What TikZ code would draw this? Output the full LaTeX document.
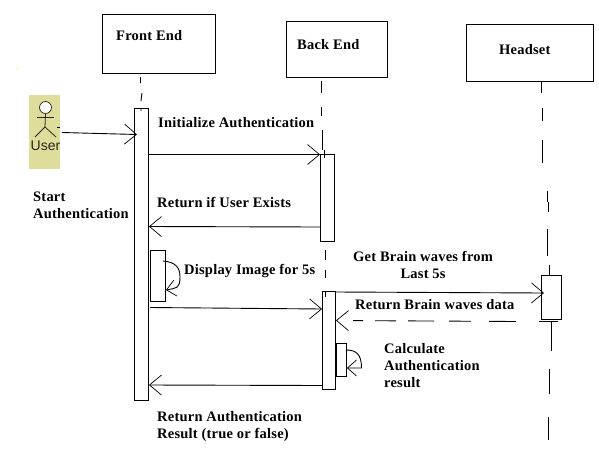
\documentclass[tikz,border=0pt]{standalone}
\usepackage{fontspec}
\setmainfont{Liberation Serif}
\setsansfont{Liberation Sans}
\newfontfamily\lblfont[LetterSpace=1.5,BoldFont={Liberation Serif Bold}]{Liberation Serif}
\usetikzlibrary{arrows.meta}
\definecolor{actorbg}{HTML}{DFDD9C}
\definecolor{actorline}{HTML}{2B2515}
\tikzset{
  lbl/.style={font=\fontsize{14.5}{17}\lblfont\bfseries,inner sep=0pt,anchor=base west},
  mlbl/.style={font=\fontsize{14.5}{17}\lblfont\bfseries,inner sep=0pt,anchor=north west,align=left},
  life/.style={line width=0.9pt},
  msg/.style={line width=0.9pt,-{Straight Barb[length=12pt,width=20pt,line width=0.7pt]}},
  retmsg/.style={msg,dash pattern=on 27pt off 18pt on 22pt off 15pt on 26pt off 12pt on 21pt off 12pt on 10pt off 40pt},
  selfmsg/.style={line width=0.9pt,-{Straight Barb[length=9pt,width=16pt,line width=0.7pt]}}
}
\begin{document}
\begin{tikzpicture}[x=1pt,y=-1pt]
\useasboundingbox (0,0) rectangle (599,453);
\fill[white] (0,0) rectangle (599,453);
\fill[yellow!60!white] (16,68) rectangle (18,69);
% participants
\node[draw,line width=0.9pt,inner sep=0,minimum width=113pt,minimum height=58.5pt] (fe) at (159,43.75) {};
\node[draw,line width=0.9pt,inner sep=0,minimum width=101pt,minimum height=56pt] (be) at (337,49.5) {};
\node[draw,line width=0.9pt,inner sep=0,minimum width=127.5pt,minimum height=56.5pt] (hs) at (529.75,52.75) {};
\node[lbl] at (116,40.7) {Front End};
\node[lbl] at (297,49) {Back End};
\node[lbl] at (499,54) {Headset};
% actor
\node[fill=actorbg,inner sep=0,minimum width=31pt,minimum height=74pt] (actor) at (44.5,132) {};
\node[draw=actorline,fill=white,circle,line width=0.7pt,inner sep=0,minimum size=12pt] (ahead) at (45.5,107.5) {};
\draw[actorline,line width=0.8pt] (ahead.south) -- (45,127) coordinate (hip);
\draw[actorline,line width=0.8pt] (37,117.5) -- (54,117.5);
\draw[actorline,line width=0.8pt] (35,137) -- (hip) -- (56,137);
\node[font=\sffamily\fontsize{14}{15}\selectfont,text=actorline,inner sep=0,anchor=base] at (45.5,150.5) {User};
% lifelines
\draw[life] (140.5,77) -- (140.5,83) (142,93) -- (141,101) (141,108) -- (141,111);
\draw[life] (321.7,81) -- (321.7,93) (321.5,107) -- (321.5,116) (322.5,130) -- (322.5,150) (324.5,150) -- (324.5,158);
\draw[life] (325,250) -- (325,260) (325,270) -- (325,278) (325.5,291) -- (325.5,297);
\draw[life] (541,81) -- (541,92.5) (542,108) -- (542,120.5) (542,140) -- (542,163) (547.5,191) -- (547.5,202) (548.5,202) -- (548.5,212) (547.5,229) -- (547.5,256) (549.5,265) -- (549.5,276) (551,322) -- (551,351) (549.5,369) -- (549.5,394) (548,417) -- (548,440);
% activations
\node[draw,line width=0.9pt,inner sep=0,minimum width=14pt,minimum height=292pt] (a1) at (141.5,254.5) {};
\node[draw,line width=0.9pt,inner sep=0,minimum width=14pt,minimum height=86.5pt] (a2) at (327.5,197.75) {};
\node[draw,line width=0.9pt,inner sep=0,minimum width=13pt,minimum height=98pt] (a3) at (329,340.5) {};
\node[draw,line width=0.9pt,inner sep=0,minimum width=15pt,minimum height=51pt] (s1) at (158,276) {};
\node[draw,line width=0.9pt,inner sep=0,minimum width=10.5pt,minimum height=33pt] (s2) at (341.25,360) {};
\node[draw,line width=0.9pt,inner sep=0,minimum width=20pt,minimum height=44pt] (a4) at (551.5,297.5) {};
\draw[life] (539,321) -- (558,321);
% messages
\coordinate (uout) at (62,132.5);
\draw[life] (57,127) -- (60,127);
\draw[msg] (uout) -- (137,134.5);
\draw[msg] (a1.east |- 0,154.5) -- (a2.west |- 0,154.5);
\draw[msg] (a2.west |- 0,227) -- (a1.east |- 0,226.5);
\draw[msg] (150,307.5) -- (a3.west |- 0,309);
\draw[msg] (a3.east |- 0,292) -- (544,293);
\draw[retmsg] (516,321.5) -- (a3.east |- 0,320.5);
\draw[msg] (a3.west |- 0,385.5) -- (a1.east |- 0,385);
% self messages
\draw[selfmsg] (163,261) .. controls (176,262) and (180,268) .. (180,277) .. controls (180,289) and (176,288) .. (s1.east |- 0,290);
\draw[selfmsg] (346,350) .. controls (356,350) and (361.5,354) .. (361.5,368) -- (s2.east |- 0,368);
% labels
\node[lbl] at (158,127) {Initialize Authentication};
\node[lbl] at (157,207.7) {Return if User Exists};
\node[lbl] at (184,274) {Display Image for 5s};
\node[lbl] at (355,309.3) {Return Brain waves data};
\node[mlbl] at (33,191.5) {Start\\Authentication};
\node[mlbl,align=center] at (353,251.5) {Get Brain waves from\\Last 5s};
\node[mlbl] at (384,343.5) {Calculate\\Authentication\\result};
\node[mlbl] at (157,411.5) {Return Authentication\\Result (true or false)};
\end{tikzpicture}
\end{document}
